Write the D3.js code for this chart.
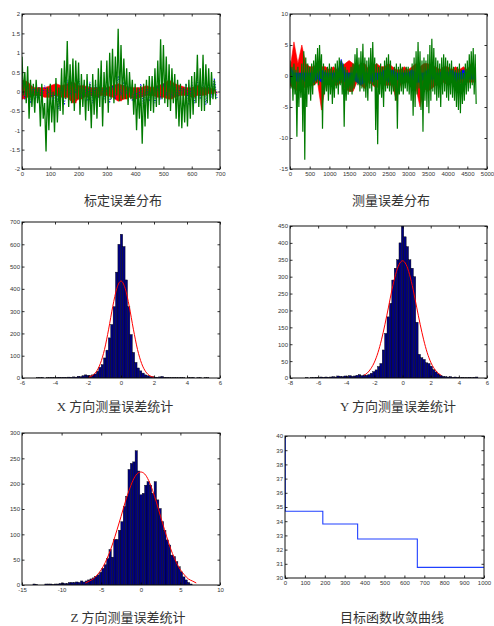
<!DOCTYPE html>
<html>
<head>
<meta charset="utf-8">
<script src="https://cdn.jsdelivr.net/npm/d3@7"></script>
<style>
body{margin:0;background:#fff;}
.tick text{font-family:"Liberation Sans",Arial,sans-serif;font-size:6px;fill:#333;}
.cap{font-family:"Liberation Serif","Noto Sans CJK SC",serif;font-size:13px;fill:#333;}
</style>
</head>
<body>
<svg id="fig" width="494" height="626"></svg>
<script>
// ---- panel 1: 标定误差分布 (hi / lo read per step)
var calGreenStep = 10;
var calGreenHi = [0.9,0.5,0.65,0.3,0.2,0.3,0.1,0.2,-0.3,0.1,0.2,0.0,0.35,0.1,0.6,0.8,1.3,0.7,0.85,0.8,0.75,0.45,0.3,0.45,0.2,0.45,0.3,0.6,0.8,0.5,0.8,1.0,1.1,0.9,1.62,1.2,0.85,0.6,0.5,0.3,0.2,0.1,0.15,0.2,0.3,0.4,0.4,0.6,0.8,1.35,1.2,0.9,0.7,0.6,0.45,0.3,0.2,0.1,0.2,0.3,0.4,0.5,0.95,0.6,0.95,0.7,0.6,0.5,0.3];
var calGreenLo = [-0.1,-0.3,-0.7,-0.4,-0.55,-0.3,-0.9,-0.7,-1.55,-1.0,-0.8,-1.05,-0.8,-0.5,-0.6,-0.2,-0.4,-0.3,-0.5,-0.2,-0.6,-0.4,-0.75,-0.5,-0.95,-0.6,-0.7,-0.4,-0.9,-0.3,-0.55,-0.2,-0.3,-0.1,-0.25,-0.2,-0.2,-0.35,-0.2,-0.6,-1.0,-0.7,-1.35,-0.9,-0.7,-0.5,-0.55,-0.4,-0.35,-0.2,-0.3,-0.4,-0.5,-0.3,-0.7,-0.9,-0.95,-0.8,-0.9,-0.7,-0.6,-0.3,-0.4,-0.5,-0.5,-0.3,-0.35,-0.2,-0.2];
var calStep = 20;
var calRedHi = [0.3,0.25,0.1,0.1,0.1,0.15,0.2,0.15,0.2,0.25,0.15,0.15,0.1,0.1,0.1,0.1,0.15,0.2,0.15,0.1,0.1,0.1,0.15,0.1,0.15,0.2,0.3,0.2,0.15,0.1,0.1,0.15,0.1,0.1,0.05];
var calRedLo = [-0.2,-0.15,-0.1,-0.1,-0.15,-0.15,-0.1,-0.15,-0.15,-0.3,-0.2,-0.15,-0.1,-0.15,-0.1,-0.1,-0.15,-0.25,-0.2,-0.15,-0.2,-0.15,-0.1,-0.1,-0.15,-0.15,-0.2,-0.15,-0.1,-0.1,-0.15,-0.1,-0.1,-0.05,-0.05];
var calBlueHi = [0.35,0.2,0.15,0.1,0.15,0.1,0.05,0.15,0.3,0.3,0.35,0.2,0.25,0.2,0.15,0.1,0.15,0.4,0.25,0.15,0.1,0.2,0.15,0.1,0.15,0.2,0.25,0.2,0.15,0.2,0.25,0.3,0.25,0.2,0.35];
var calBlueLo = [-0.2,-0.3,-0.15,-0.2,-0.1,-0.3,-0.45,-0.35,-0.1,-0.05,-0.15,-0.25,-0.3,-0.15,-0.2,-0.3,-0.2,-0.1,-0.05,-0.25,-0.3,-0.4,-0.25,-0.3,-0.2,-0.1,-0.15,-0.2,-0.1,-0.35,-0.3,-0.2,-0.35,-0.15,-0.2];

// ---- panel 2: 测量误差分布
var meaGreenStep = 50;
var meaGreenHi = [2.5,1.5,2,1,1.5,0.5,2,4,3,2,1.5,2,2.5,3.5,4.5,5,3.5,2,1,1.5,2,1.5,1,2,2.5,3,2.5,2,1.5,1,0.5,1.5,2,3.5,4.5,3,4,5.2,3,2.5,3,4.5,5.5,3,2,1.5,2,1.5,2.5,3,3.5,2.5,1,1.5,2,1.5,2,1.5,1,1.5,1.5,1,2,3,4,5.5,4,2.5,3,2.5,3.5,5,6,4.5,3,2.5,2,3,3.5,3,2.5,2,2.5,1.5,1,1.5,2,1,0.5,2,2.5,3.5,4,4.5,3.5];
var meaGreenLo = [-2,-4,-3,-9.8,-5,-3.5,-9,-13.5,-5,-3,-4,-3,-1.5,-1,-1.5,-0.5,-8.5,-3,-2.5,-4,-3,-4.5,-3.5,-2,-3,-1.5,-3,-8.2,-4,-3,-2.5,-3,-2,-1,-1.5,-2.5,-2,-2.5,-3.5,-4,-2,-2.5,-1.5,-8.7,-11,-3,-3.5,-5,-2.5,-2,-2.5,-3,-2.5,-4,-8.5,-3,-2.5,-3,-2,-2.5,-3,-4,-6.4,-5,-3,-2,-5.5,-9,-4,-5,-6,-4,-2.5,-3,-4,-3.5,-5,-3,-2.5,-3.5,-4,-3,-3.5,-4,-5,-5.5,-6,-4.5,-4,-3,-2.5,-2,-1.5,-3,-4.5];
var meaStep = 100;
var meaRedHi = [1,5.5,2,5,2,1.5,1.5,2,1.5,1.5,1,1.5,1,1.5,2,2.5,2,1.5,2,2,1,1.5,2,1.5,1.5,2,1.5,1,1,1.5,1,1.5,2,1.5,2,2,1.5,1.5,1,1.5,1.5,1,1.5,1,1.5,1,2,1];
var meaRedLo = [-1.5,-2,-2.5,-1.5,-2,-1.5,-1.5,-1,-5.5,-1.5,-1,-1.5,-1.5,-1,-2,-2.5,-2.5,-1,-1.5,-2,-1,-1.5,-2,-1,-1.5,-1.5,-1.5,-4,-1.5,-1,-1,-1.5,-2,-5,-2,-2.5,-2,-1.5,-1.5,-1,-1.5,-1,-2,-1,-1.5,-1,-1,-1];
var meaBlueHi = [1.5,0.5,0.5,0.5,0.5,0.5,0.5,0.5,1,0.5,0.5,0.5,0.5,2.7,0.5,0.5,0.5,0.5,0.5,0.5,0.5,0.5,0.5,0.5,1,0.5,1,0.5,0.5,0.5,0.5,1,0.5,0.5,0.5,1,1,0.5,0.5,1,0.5,1,0.5,0.5,1,0.5,1,0.5];
var meaBlueLo = [-1,-0.5,-1,-0.5,-1,-1.5,-1,-0.5,-1,-1,-1,-0.5,-1,-0.5,-1,-1,-0.5,-1,-1.5,-1,-0.5,-1,-0.5,-1,-0.5,-1,-0.5,-0.5,-1,-0.5,-1,-0.5,-1,-1,-0.5,-1,-0.5,-0.5,-1,-0.5,-0.5,-0.5,-1,-0.5,-0.5,-0.5,-0.5,-0.5];

// ---- histograms: first bin centre, bin width, counts
var xHistStart = -5.045, xHistWidth = 0.145;
var xHistCounts = [1,1,2,0,1, 1,2,1,2,3,2,3,2,4,3, 5,4,8,6,10,14,12,10,14,18,
  30,48,60,90,125,180,240,320,475,600, 645,
  590,440,320,195,115,70,45,32,22,14, 10,7,6,4,3,5,7,3,3,2, 1,2,1,1,2,1,0,1,1,2, 0,1,1,0,1,1];
var xFitX = [-2,-1.75,-1.5,-1.25,-1,-0.75,-0.5,-0.25,0,0.25,0.5,0.75,1,1.25,1.5,1.75,2];
var xFitY = [3,10,28,65,128,219,321,403,435,403,321,219,128,65,28,10,3];

var yHistStart = -6.8, yHistWidth = 0.17;
var yHistCounts = [1,0,1,1,2,1,3,2,3,2, 3,4,3,6,5,4,6,5,7,5, 6,8,10,7,9,8,10,14,19,24,
  34,43,83,132,181,221,290,325,350,400, 450,
  418,389,350,325,300,165,70,60,55,45, 43,35,25,18,12,8,5,4,3,4, 2,3,2,1,2,1,1,2,1,2,3];
var yFitX = [-2.75,-2.5,-2.25,-2,-1.75,-1.5,-1.25,-1,-0.75,-0.5,-0.25,0,0.25,0.5,0.75,1,1.25,1.5,1.75,2,2.25,2.5,2.75];
var yFitY = [8,15,28,47,75,113,159,210,262,306,336,347,336,306,262,210,159,113,75,47,28,15,8];

var zHistStart = -13.47, zHistWidth = 0.3;
var zHistCounts = [2,1,0,0,0,2,2,2,1,2, 2,3,4,3,3,5,5,5,6,5, 8,6,8,10,12,14,17,20,25,33,
  40,52,70,55,90,90,108,125,155,175, 228,240,243,265,225,178,181,197,204,197,
  181,204,168,151,125,108,89,79,59,56, 46,36,26,16,10,5,2];
var zFitX = [-7,-6.5,-6,-5.5,-5,-4.5,-4,-3.5,-3,-2.5,-2,-1.5,-1,-0.5,0,0.5,1,1.5,2,2.5,3,3.5,4,4.5,5,5.5,6,6.5,7];
var zFitY = [4,8,12,20,30,44,62,84,109,135,162,186,206,219,223,219,206,186,162,135,109,84,62,44,30,20,12,8,4];

// ---- panel 6: 目标函数收敛曲线
var convIter = [0,2,190,365,665,1000];
var convVal = [39.9,34.7,33.8,32.75,30.75,30.75];

var svg = d3.select("#fig");
svg.append("rect").attr("width",494).attr("height",626).attr("fill","#fff");

var clipId = 0;
function frame(b, xd, yd, xt, yt, cap, cx, cy){
  var x = d3.scaleLinear().domain(xd).range([b.x0, b.x1]);
  var y = d3.scaleLinear().domain(yd).range([b.y1, b.y0]);
  var g = svg.append("g");
  clipId++;
  svg.append("clipPath").attr("id","c"+clipId).append("rect")
    .attr("x",b.x0).attr("y",b.y0).attr("width",b.x1-b.x0).attr("height",b.y1-b.y0);
  var plot = g.append("g").attr("clip-path","url(#c"+clipId+")");
  var fmt = function(d){ return String(d); };
  var ax = g.append("g");
  ax.append("g").attr("transform","translate(0,"+b.y1+")")
    .call(d3.axisBottom(x).tickValues(xt).tickSize(-2.5).tickPadding(3).tickFormat(fmt));
  ax.append("g").attr("transform","translate(0,"+b.y0+")")
    .call(d3.axisTop(x).tickValues(xt).tickSize(-2.5).tickFormat(""));
  ax.append("g").attr("transform","translate("+b.x0+",0)")
    .call(d3.axisLeft(y).tickValues(yt).tickSize(-2.5).tickPadding(2).tickFormat(fmt));
  ax.append("g").attr("transform","translate("+b.x1+",0)")
    .call(d3.axisRight(y).tickValues(yt).tickSize(-2.5).tickFormat(""));
  ax.selectAll(".domain").remove();
  ax.selectAll(".tick line").attr("stroke","#000").attr("stroke-width",0.8);
  g.append("rect").attr("x",b.x0).attr("y",b.y0).attr("width",b.x1-b.x0).attr("height",b.y1-b.y0)
    .attr("fill","none").attr("stroke","#111").attr("stroke-width",1);
  svg.append("text").attr("class","cap").attr("x",cx).attr("y",cy).attr("text-anchor","middle").text(cap);
  return {plot:plot, x:x, y:y};
}

// hi/lo pairs joined as a zigzag trace
function zigzag(p, step, hi, lo, color, w, dash){
  var pts = [];
  hi.forEach(function(h,i){
    pts.push([i*step, h]);
    pts.push([i*step + step/2, lo[i]]);
  });
  var line = d3.line().x(function(d){ return p.x(d[0]); }).y(function(d){ return p.y(d[1]); });
  var path = p.plot.append("path").attr("d", line(pts)).attr("fill","none")
    .attr("stroke", color).attr("stroke-width", w).attr("stroke-linejoin","bevel");
  if (dash) path.attr("stroke-dasharray", dash);
}

// hi/lo envelope as a filled band
function band(p, step, hi, lo, color){
  var area = d3.area()
    .x(function(d,i){ return p.x(i*step); })
    .y0(function(d,i){ return p.y(lo[i]); })
    .y1(function(d){ return p.y(d); });
  p.plot.append("path").attr("d", area(hi)).attr("fill", color).attr("stroke", color).attr("stroke-width",0.6);
}

function hist(p, start, width, counts, fitX, fitY){
  p.plot.selectAll("rect.bar").data(counts).enter().append("rect").attr("class","bar")
    .attr("x", function(d,i){ return p.x(start + i*width - width/2); })
    .attr("width", function(d,i){ return p.x(start + i*width + width/2) - p.x(start + i*width - width/2); })
    .attr("y", function(d){ return p.y(d); })
    .attr("height", function(d){ return p.y(0) - p.y(d); })
    .attr("fill","#000080").attr("stroke","#000").attr("stroke-width",0.4);
  var line = d3.line().curve(d3.curveMonotoneX)
    .x(function(d,i){ return p.x(fitX[i]); }).y(function(d){ return p.y(d); });
  p.plot.append("path").attr("d", line(fitY)).attr("fill","none").attr("stroke","#ff0000").attr("stroke-width",1);
}

// panel 1
var p1 = frame({x0:22,x1:220,y0:14,y1:169}, [0,700], [-2,2],
  [0,100,200,300,400,500,600,700], [-2,-1.5,-1,-0.5,0,0.5,1,1.5,2], "标定误差分布", 123, 205);
band(p1, calStep, calRedHi, calRedLo, "#ff0000");
zigzag(p1, calStep, calRedHi, calRedLo, "#ff0000", 1.2);
zigzag(p1, calStep, calBlueHi, calBlueLo, "#0000ff", 1, "1 1.6");
zigzag(p1, calGreenStep, calGreenHi, calGreenLo, "#007a00", 1.3);

// panel 2
var p2 = frame({x0:290,x1:487,y0:14,y1:169}, [0,5000], [-15,10],
  [0,500,1000,1500,2000,2500,3000,3500,4000,4500,5000], [-15,-10,-5,0,5,10], "测量误差分布", 391, 205);
band(p2, meaStep, meaRedHi, meaRedLo, "#ff0000");
band(p2, meaStep, meaBlueHi, meaBlueLo, "#0000ff");
zigzag(p2, meaGreenStep, meaGreenHi, meaGreenLo, "#007a00", 1.2);

// panel 3
var p3 = frame({x0:22,x1:220,y0:222,y1:378}, [-6,6], [0,700],
  [-6,-4,-2,0,2,4,6], [0,100,200,300,400,500,600,700], "X 方向测量误差统计", 115, 411);
hist(p3, xHistStart, xHistWidth, xHistCounts, xFitX, xFitY);

// panel 4
var p4 = frame({x0:290,x1:487,y0:226,y1:378}, [-8,6], [0,450],
  [-8,-6,-4,-2,0,2,4,6], [0,50,100,150,200,250,300,350,400,450], "Y 方向测量误差统计", 398, 411);
hist(p4, yHistStart, yHistWidth, yHistCounts, yFitX, yFitY);

// panel 5
var p5 = frame({x0:22,x1:220,y0:433,y1:585}, [-15,10], [0,300],
  [-15,-10,-5,0,5,10], [0,50,100,150,200,250,300], "Z 方向测量误差统计", 128, 622);
hist(p5, zHistStart, zHistWidth, zHistCounts, zFitX, zFitY);

// panel 6
var p6 = frame({x0:285,x1:484,y0:436,y1:578}, [0,1000], [30,40],
  [0,100,200,300,400,500,600,700,800,900,1000], [30,31,32,33,34,35,36,37,38,39,40], "目标函数收敛曲线", 392, 622);
var convLine = d3.line().curve(d3.curveStepAfter)
  .x(function(d,i){ return p6.x(convIter[i]); }).y(function(d){ return p6.y(d); });
p6.plot.append("path").attr("d", convLine(convVal)).attr("fill","none").attr("stroke","#2040ff").attr("stroke-width",1.1);
</script>
</body>
</html>
